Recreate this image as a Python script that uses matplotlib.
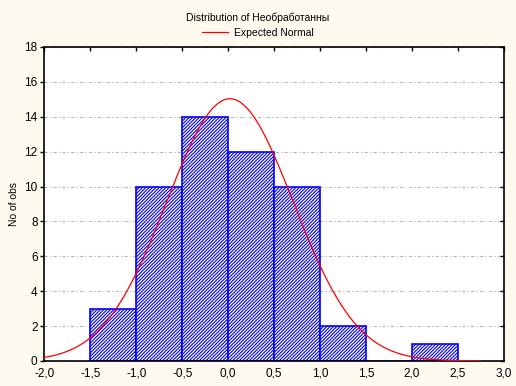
import matplotlib
matplotlib.use("Agg")
import matplotlib.pyplot as plt
import numpy as np

# histogram data
bin_edges = [-1.5, -1.0, -0.5, 0.0, 0.5, 1.0, 1.5, 2.0, 2.5]
counts = [3, 10, 14, 12, 10, 2, 0, 1]
x_ticks = [-2.0, -1.5, -1.0, -0.5, 0.0, 0.5, 1.0, 1.5, 2.0, 2.5, 3.0]
y_ticks = [0, 2, 4, 6, 8, 10, 12, 14, 16, 18]

# expected normal fit
fit_mean = 0.02
fit_sd = 0.69
curve_range = (-2.0, 2.75)

plt.rcParams['font.family'] = ['Liberation Sans', 'DejaVu Sans']
plt.rcParams['hatch.color'] = '#0000ff'
plt.rcParams['hatch.linewidth'] = 0.8

fig = plt.figure(figsize=(5.16, 3.86), dpi=100, facecolor='#fffaf0')
ax = fig.add_axes([0.0862, 0.0648, 0.8896, 0.8135])
ax.set_facecolor('white')

lefts = np.array(bin_edges[:-1])
widths = np.diff(bin_edges)
ax.bar(lefts, counts, width=widths, align='edge', facecolor='white',
       edgecolor='#0000ff', linewidth=1.2, hatch='/' * 10, zorder=2)

n = sum(counts)
bw = 0.5
xs = np.linspace(curve_range[0], curve_range[1], 300)
ys = n * bw / (fit_sd * np.sqrt(2 * np.pi)) * np.exp(-0.5 * ((xs - fit_mean) / fit_sd) ** 2)
ax.plot(xs, ys, color='#ff0000', linewidth=0.9, zorder=3, label='Expected Normal')

ax.set_xlim(-2.0, 3.0)
ax.set_ylim(0, 18)
ax.set_xticks(x_ticks)
ax.set_xticklabels([f"{v:.1f}".replace('.', ',') for v in x_ticks])
ax.set_yticks(y_ticks)
ax.yaxis.grid(True, color='#b8b8b8', linestyle=(0, (3, 2, 1, 2)), linewidth=0.8, zorder=0)
ax.set_axisbelow(True)

ax.tick_params(axis='both', labelsize=8.5, length=3, width=1, color='black')
ax.tick_params(axis='x', top=True, bottom=False, direction='in', pad=5)
ax.tick_params(axis='y', right=True, direction='out', pad=2)
for t in ax.yaxis.get_ticklines()[1::2]:
    t.set_marker(0)
for sp in ax.spines.values():
    sp.set_linewidth(1.2)

ax.set_ylabel("No of obs", fontsize=7.5)
fig.text(0.5, 0.955, "Distribution of Необработанны", ha='center', va='center', fontsize=7.5)
fig.legend(loc='center', bbox_to_anchor=(0.5, 0.915), frameon=False, fontsize=7.5,
           handlelength=2.5, handletextpad=0.6)

fig.savefig("out.png", dpi=100, facecolor=fig.get_facecolor())
